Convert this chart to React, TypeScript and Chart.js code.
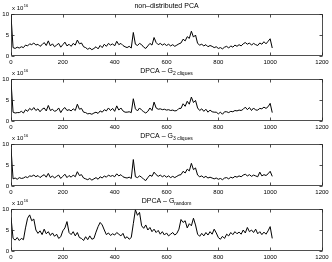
import { useEffect, useRef } from "react";
import { Chart, registerables } from "chart.js";
Chart.register(...registerables);

// sample spacing along x (iteration index)
const X_STEP = 8;

const PCA_FULL = [
  9.6, 2.0, 1.8, 2.1, 1.9, 2.2, 2.0, 2.6, 2.4, 2.9,
  2.7, 3.1, 2.6, 2.8, 2.3, 2.7, 3.2, 2.5, 3.6, 2.4,
  2.9, 2.2, 2.6, 3.0, 2.1, 2.7, 3.3, 2.4, 2.8, 2.3,
  3.0, 2.6, 3.8, 2.9, 3.1, 2.2, 2.0, 1.6, 1.9, 1.5,
  1.8, 2.2, 1.7, 2.5, 2.0, 2.8, 2.3, 3.0, 2.6, 2.9,
  2.4, 3.5, 2.7, 3.0, 2.5, 2.2, 2.0, 2.3, 1.9, 5.6,
  2.8, 2.5, 3.0, 2.7, 2.1, 1.8, 2.4, 3.0, 2.6, 4.4,
  3.2, 2.7, 3.0, 2.6, 2.9, 2.5, 2.8, 2.4, 2.7, 2.3,
  2.6, 2.9, 3.1, 4.0, 3.6, 4.6, 4.2, 5.9, 4.5, 5.0,
  3.0, 2.6, 2.8, 2.4, 2.7, 2.2, 2.5, 2.3, 2.0, 2.2,
  1.8, 2.0, 1.7, 2.1, 2.3, 1.9, 2.4, 2.1, 2.6, 2.3,
  2.7, 2.4, 2.9, 3.2, 2.8, 3.1, 2.6, 3.0, 2.7, 2.5,
  3.1, 2.8, 3.4, 2.9, 3.5, 4.1, 1.9,
];

const DPCA_G2 = [
  9.4, 2.1, 1.9, 2.0, 2.0, 2.3, 1.9, 2.7, 2.3, 3.0,
  2.6, 3.2, 2.5, 2.9, 2.2, 2.8, 3.1, 2.4, 3.7, 2.5,
  2.8, 2.3, 2.5, 3.1, 2.0, 2.8, 3.2, 2.5, 2.7, 2.4,
  2.9, 2.5, 4.0, 2.8, 3.0, 2.1, 2.0, 1.7, 1.8, 1.6,
  1.9, 2.1, 1.8, 2.4, 2.1, 2.7, 2.4, 3.1, 2.5, 3.0,
  2.3, 3.6, 2.6, 3.1, 2.4, 2.1, 2.1, 2.2, 2.0, 5.3,
  2.9, 2.4, 3.1, 2.6, 2.2, 1.9, 2.3, 3.1, 2.5, 4.5,
  3.1, 2.8, 2.9, 2.7, 2.8, 2.6, 2.7, 2.5, 2.6, 2.4,
  2.5, 3.0, 3.0, 4.1, 3.5, 4.7, 4.0, 5.7, 4.4, 4.9,
  3.1, 2.5, 2.9, 2.3, 2.8, 2.1, 2.6, 2.2, 2.1, 2.1,
  1.7, 2.1, 1.6, 2.2, 2.2, 2.0, 2.3, 2.2, 2.5, 2.4,
  2.6, 2.5, 2.8, 3.3, 2.7, 3.2, 2.5, 3.1, 2.6, 2.6,
  3.0, 2.9, 3.3, 3.0, 3.4, 4.2, 2.0,
];

const DPCA_G3 = [
  9.0, 1.7, 1.9, 1.6, 2.0, 1.8, 1.9, 2.2, 2.0, 2.4,
  2.3, 2.6, 2.2, 2.5, 2.0, 2.4, 2.7, 2.1, 3.0, 2.0,
  2.4, 1.9, 2.3, 2.6, 1.8, 2.3, 2.8, 2.0, 2.5, 2.1,
  2.6, 2.2, 3.4, 2.5, 2.7, 1.9, 1.7, 1.5, 1.8, 1.4,
  1.7, 2.0, 1.6, 2.2, 1.9, 2.4, 2.1, 2.6, 2.3, 2.5,
  2.2, 2.9, 2.4, 2.7, 2.2, 2.0, 1.9, 2.1, 1.8, 6.3,
  2.2, 2.0, 2.4, 2.1, 1.6, 1.3, 2.0, 2.6, 2.3, 3.3,
  2.7, 2.3, 2.6, 2.2, 2.5, 2.1, 2.4, 2.0, 2.3, 2.0,
  2.3, 2.6, 2.7, 3.5, 3.1, 4.0, 3.6, 5.4, 3.9, 4.3,
  2.6, 2.2, 2.4, 2.0, 2.3, 1.9, 2.1, 1.9, 1.7, 1.9,
  1.6, 1.8, 1.5, 1.9, 2.0, 1.7, 2.1, 1.9, 2.3, 2.1,
  2.4, 2.2, 2.6, 2.8, 2.4, 2.7, 2.3, 2.6, 2.4, 2.2,
  3.3, 2.4, 2.7, 2.5, 2.9, 3.5, 2.3,
];

const DPCA_RANDOM = [
  8.0, 3.0, 2.6, 3.2, 2.5, 3.0, 2.7, 5.5, 7.8, 8.6,
  7.2, 7.6, 5.0, 4.2, 4.8, 3.9, 5.2, 4.1, 4.6, 3.7,
  4.3, 3.5, 4.0, 3.0, 3.4, 4.8, 5.5, 7.0, 4.4, 3.9,
  4.6, 3.6, 4.4, 3.2, 3.0, 2.5, 3.4, 2.7, 3.6, 2.8,
  3.0, 4.5, 5.8, 6.8, 6.2, 5.0, 3.9, 4.3, 3.7, 4.1,
  3.8, 4.4, 4.0, 3.6, 4.2, 3.0, 3.4, 2.8, 3.2, 6.5,
  9.8, 8.5, 9.2, 6.0, 5.4, 6.2, 5.0, 5.6, 4.6, 5.2,
  4.4, 4.9, 4.0, 4.6, 3.8, 4.3, 3.6, 4.0, 4.4, 3.8,
  4.2, 5.2, 7.5, 6.8, 7.2, 5.5, 6.5, 6.0, 7.8, 6.2,
  4.0, 3.5, 4.2, 3.6, 4.4, 3.8, 4.6, 4.0, 5.2, 4.3,
  3.2, 2.8, 3.5, 3.0, 4.0, 3.6, 4.4, 3.9, 4.6, 4.1,
  4.5, 4.0, 5.0, 4.3, 5.6, 4.6, 5.0, 4.4, 5.2, 4.1,
  4.6, 3.9, 4.5, 4.0, 4.8, 5.8, 3.0,
];

const TITLE_MAIN = ["non\u2013distributed PCA", "DPCA \u2013 G", "DPCA \u2013 G", "DPCA \u2013 G"];
const TITLE_SUB = ["", "2 cliques", "3 cliques", "random"];
const SERIES = [PCA_FULL, DPCA_G2, DPCA_G3, DPCA_RANDOM];

const X_TICKS = [0, 200, 400, 600, 800, 1000, 1200];
const Y_TICKS = [0, 5, 10];
const EXP_BASE = "x 10";
const EXP_POW = "16";

const FONT = "'Liberation Sans', Arial, Helvetica, sans-serif";

const decorPlugin = {
  id: "decor",
  afterDraw(chart: any, _args: any, opts: any) {
    const { ctx, chartArea: a, scales } = chart;
    const L = Math.round(a.left) + 0.5;
    const R = Math.round(a.right) + 0.5;
    const T = Math.round(a.top) + 0.5;
    const B = Math.round(a.bottom) - 0.5;
    ctx.save();
    ctx.strokeStyle = "#222";
    ctx.lineWidth = 0.8;
    ctx.beginPath();
    ctx.rect(L, T, R - L, B - T);
    for (const v of X_TICKS) {
      const x = Math.round(scales.x.getPixelForValue(v)) + 0.5;
      ctx.moveTo(x, B);
      ctx.lineTo(x, B - 3);
      ctx.moveTo(x, T);
      ctx.lineTo(x, T + 3);
    }
    for (const v of Y_TICKS) {
      const y = Math.round(scales.y.getPixelForValue(v)) + 0.5;
      ctx.moveTo(L, y);
      ctx.lineTo(L + 3, y);
      ctx.moveTo(R, y);
      ctx.lineTo(R - 3, y);
    }
    ctx.stroke();

    // title with optional subscript
    ctx.fillStyle = "#000";
    ctx.textBaseline = "alphabetic";
    ctx.textAlign = "left";
    const mainFont = `7px ${FONT}`;
    const subFont = `5px ${FONT}`;
    ctx.font = mainFont;
    const wMain = ctx.measureText(opts.main).width;
    ctx.font = subFont;
    const wSub = opts.sub ? ctx.measureText(opts.sub).width : 0;
    const cx = (a.left + a.right) / 2;
    const x0 = cx - (wMain + wSub) / 2;
    const by = a.top - 6;
    ctx.font = mainFont;
    ctx.fillText(opts.main, x0, by);
    if (opts.sub) {
      ctx.font = subFont;
      ctx.fillText(opts.sub, x0 + wMain, by + 2);
    }

    // exponent label
    ctx.font = `6px ${FONT}`;
    const ex = a.left + 1;
    const ey = a.top - 4;
    ctx.fillText(EXP_BASE, ex, ey);
    const wBase = ctx.measureText(EXP_BASE).width;
    ctx.font = `4px ${FONT}`;
    ctx.fillText(EXP_POW, ex + wBase + 0.5, ey - 3);
    ctx.restore();
  },
};

function Panel({ idx }: { idx: number }) {
  const ref = useRef<HTMLCanvasElement>(null);
  useEffect(() => {
    const values = SERIES[idx];
    const chart = new Chart(ref.current!, {
      type: "line",
      data: {
        datasets: [
          {
            data: values.map((v, i) => ({ x: i * X_STEP, y: v })),
            borderColor: "#000",
            borderWidth: 1,
            pointRadius: 0,
            tension: 0,
            fill: false,
          },
        ],
      },
      options: {
        animation: false,
        responsive: false,
        events: [],
        layout: { padding: { top: 14, right: 10, left: 0, bottom: 0 } },
        plugins: {
          legend: { display: false },
          tooltip: { enabled: false },
          title: { display: false },
          decor: { main: TITLE_MAIN[idx], sub: TITLE_SUB[idx] },
        } as any,
        scales: {
          x: {
            type: "linear",
            min: 0,
            max: 1200,
            afterBuildTicks: (s: any) => {
              s.ticks = X_TICKS.map((value) => ({ value }));
            },
            afterFit: (s: any) => {
              s.height = 9;
            },
            grid: { display: false, drawTicks: false },
            border: { display: false },
            ticks: {
              color: "#000",
              font: { family: FONT, size: 6 },
              padding: 3,
              maxRotation: 0,
              autoSkip: false,
              callback: (v: any) => String(v),
            },
          },
          y: {
            type: "linear",
            min: 0,
            max: 10,
            afterBuildTicks: (s: any) => {
              s.ticks = Y_TICKS.map((value) => ({ value }));
            },
            afterFit: (s: any) => {
              s.width = 11;
            },
            grid: { display: false, drawTicks: false },
            border: { display: false },
            ticks: {
              color: "#000",
              font: { family: FONT, size: 6 },
              padding: 2,
              callback: (v: any) => String(v),
            },
          },
        },
      },
      plugins: [decorPlugin],
    });
    return () => chart.destroy();
  }, [idx]);
  return (
    <canvas
      ref={ref}
      width={332}
      height={65}
      style={{ position: "absolute", left: 0, top: idx * 65, width: 332, height: 65 }}
    />
  );
}

export default function App() {
  return (
    <div
      style={{
        position: "fixed",
        left: 0,
        top: 0,
        width: 332,
        height: 262,
        overflow: "hidden",
        background: "#fff",
      }}
    >
      {[0, 1, 2, 3].map((i) => (
        <Panel key={i} idx={i} />
      ))}
    </div>
  );
}
